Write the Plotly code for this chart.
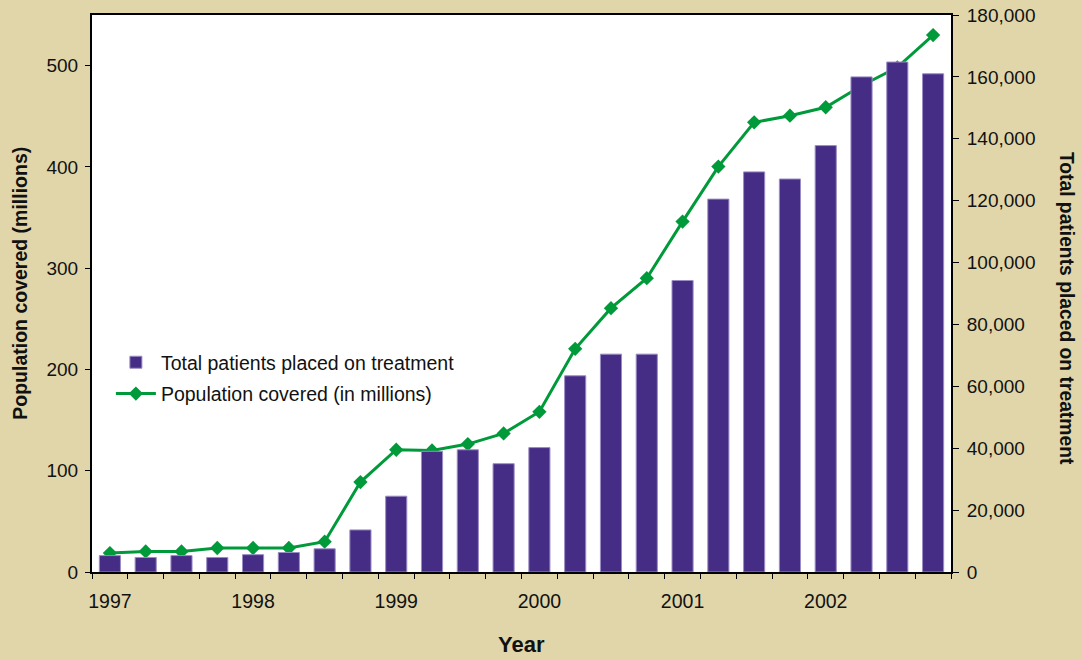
import plotly.graph_objects as go

# Quarterly figures, 1997 Q1 through 2002 Q4
quarters = [f"{y} Q{q}" for y in range(1997, 2003) for q in range(1, 5)]
patients_total = [5300, 4700, 5300, 4700, 5600, 6300, 7500, 13600,
                  24500, 39000, 39500, 35000, 40200, 63400, 70400, 70400,
                  94200, 120500, 129300, 127000, 137800, 160000, 164800, 161000]
population_millions = [18.7, 20.3, 20.3, 23.7, 23.7, 23.7, 29.9, 88.8,
                       120.7, 120.0, 126.3, 136.8, 158.2, 220.4, 260.5, 290.1,
                       346.0, 400.3, 444.0, 450.6, 458.9, 480.2, 498.3, 530.2]
year_labels = ["1997", "1998", "1999", "2000", "2001", "2002"]

idx = list(range(len(quarters)))
year_pos = idx[::4]

BG = "#e0d6aa"
BAR = "#452c84"
GREEN = "#009a3a"
FONT = "Liberation Sans, Arial, sans-serif"

fig = go.Figure()
fig.add_trace(go.Bar(
    x=idx, y=patients_total, yaxis="y2",
    name="Total patients placed on treatment", legendgroup="bars",
    marker=dict(color=BAR, line=dict(color="#9a8cc4", width=1)),
    width=0.59,
))
fig.add_trace(go.Scatter(
    x=idx, y=population_millions, yaxis="y",
    name="Population covered (in millions)", legendgroup="line",
    mode="lines+markers",
    line=dict(color=GREEN, width=3),
    marker=dict(symbol="diamond", size=11, color=GREEN),
))

fig.update_layout(
    width=1082, height=659,
    margin=dict(l=92, r=131, t=15, b=87),
    paper_bgcolor=BG, plot_bgcolor="white",
    font=dict(family=FONT, size=19, color="#111111"),
    showlegend=True,
    legend=dict(x=0.022, y=0.411, xanchor="left", yanchor="top",
                bgcolor="rgba(0,0,0,0)", font=dict(size=19.5),
                traceorder="grouped", itemwidth=40, tracegroupgap=3),
    xaxis=dict(
        range=[-0.5, len(quarters) - 0.5], automargin=False,
        tickmode="array", tickvals=year_pos, ticktext=year_labels,
        ticks="", ticklabelstandoff=11, tickfont=dict(size=19.5),
        minor=dict(tickmode="linear", tick0=-0.5, dtick=1, ticks="outside",
                   ticklen=5, tickwidth=1, tickcolor="black"),
        showline=True, linecolor="black", linewidth=2, mirror=True,
        showgrid=False, zeroline=False,
    ),
    yaxis=dict(
        range=[0, 550], tickvals=[0, 100, 200, 300, 400, 500], automargin=False,
        ticks="outside", ticklen=5, tickcolor="black", ticklabelstandoff=3,
        showline=True, linecolor="black", linewidth=2,
        showgrid=False, zeroline=False,
    ),
    yaxis2=dict(
        range=[0, 180000], overlaying="y", side="right", automargin=False,
        tickvals=list(range(0, 180001, 20000)), tickformat=",d",
        ticks="outside", ticklen=6, tickcolor="black", ticklabelstandoff=4,
        showline=True, linecolor="black", linewidth=2,
        showgrid=False, zeroline=False,
    ),
)

fig.add_annotation(text="<b>Year</b>", xref="paper", yref="paper",
                   x=0.5, y=-0.1305, xanchor="center", yanchor="middle",
                   showarrow=False, font=dict(size=22))
fig.add_annotation(text="<b>Population covered (millions)</b>", textangle=-90,
                   xref="paper", yref="paper", x=-0.0835, y=0.518,
                   xanchor="center", yanchor="middle", showarrow=False,
                   font=dict(size=19.5))
fig.add_annotation(text="<b>Total patients placed on treatment</b>", textangle=90,
                   xref="paper", yref="paper", x=1.134, y=0.474,
                   xanchor="center", yanchor="middle", showarrow=False,
                   font=dict(size=19.3))

fig.write_html("out.html")
